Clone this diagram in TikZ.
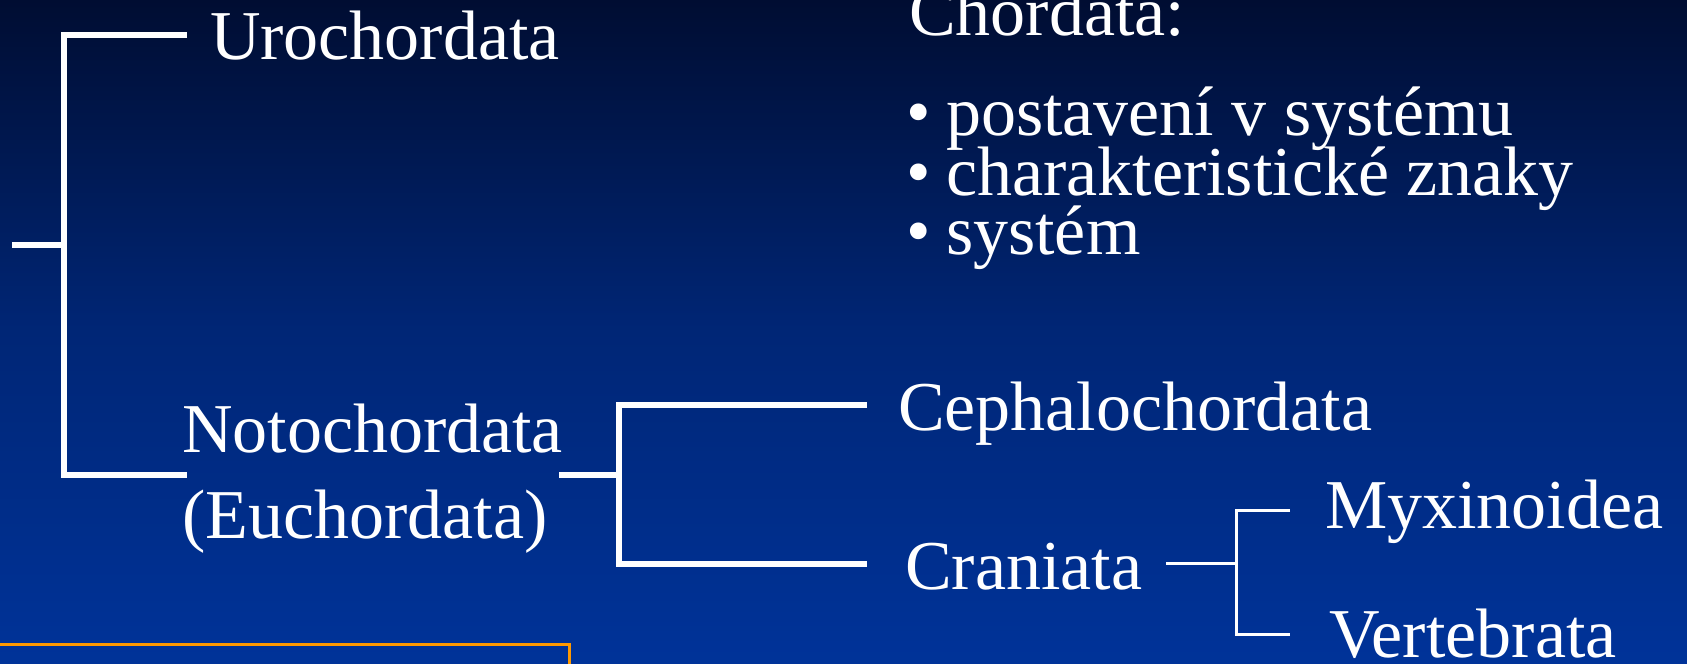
\documentclass[tikz,border=0pt]{standalone}
\usepackage{fontspec}
\setmainfont{Liberation Serif}
\definecolor{bgtop}{RGB}{0,13,50}
\definecolor{bgmid}{RGB}{0,38,118}
\definecolor{bgbot}{RGB}{0,51,153}
\definecolor{orangeline}{RGB}{255,153,0}
\begin{document}
\begin{tikzpicture}[x=1pt,y=-1pt,
  lbl/.style={anchor=base west,inner sep=0pt,outer sep=0pt,text=white,font=\fontsize{70}{60}\selectfont},
  thickline/.style={draw=white,line width=6pt,line join=miter},
  thinline/.style={draw=white,line width=3pt,line join=miter},
  frameline/.style={draw=orangeline,line width=3pt}]
\shade[top color=bgtop,bottom color=bgbot,middle color=bgmid] (0,0) rectangle (1687,664);
\useasboundingbox (0,0) rectangle (1687,664);
% labels
\node[lbl] (uro) at (210,59) {Urochordata};
\node[lbl] (noto) at (182,452.5) {Notochordata};
\node[lbl] (eu) at (182,538) {(Euchordata)};
\node[lbl] (chord) at (909,35) {Chordata:};
\node[lbl] (b1) at (906,135) {•};
\node[lbl] (t1) at (946,135) {postavení v systému};
\node[lbl] (b2) at (906,195) {•};
\node[lbl] (t2) at (946,195) {charakteristické znaky};
\node[lbl] (b3) at (906,254) {•};
\node[lbl] (t3) at (946,254) {systém};
\node[lbl] (ceph) at (898,430) {Cephalochordata};
\node[lbl] (cran) at (905,589) {Craniata};
\node[lbl] (myx) at (1325,528) {Myxinoidea};
\node[lbl] (vert) at (1329,657) {Vertebrata};
% tree junction coordinates
\coordinate (rootL) at (12,245);
\coordinate (rootJ) at (64,245);
\coordinate (uroE) at (187,35);
\coordinate (notoE) at (187,474.5);
\coordinate (notoS) at (559,474.5);
\coordinate (notoJ) at (619,474.5);
\coordinate (cephE) at (867,405);
\coordinate (cranE) at (867,563.5);
\coordinate (cranS) at (1166,563);
\coordinate (cranJ) at (1236,563);
\coordinate (myxE) at (1290,510);
\coordinate (vertE) at (1290,634);
% connectors
\draw[thickline] (rootL) -- (rootJ);
\draw[thickline] (uroE) -- (uroE -| rootJ) -- (notoE -| rootJ) -- (notoE);
\draw[thickline] (notoS) -- (notoJ);
\draw[thickline] (cephE) -- (cephE -| notoJ) -- (cranE -| notoJ) -- (cranE);
\draw[thinline] (cranS) -- (cranJ);
\draw[thinline] (myxE) -- (myxE -| cranJ) -- (vertE -| cranJ) -- (vertE);
% orange frame
\coordinate (fL) at (0,644);
\coordinate (fC) at (569,644);
\coordinate (fB) at (569,670);
\draw[frameline] (fL) -- (fC) -- (fB);
\end{tikzpicture}
\end{document}
